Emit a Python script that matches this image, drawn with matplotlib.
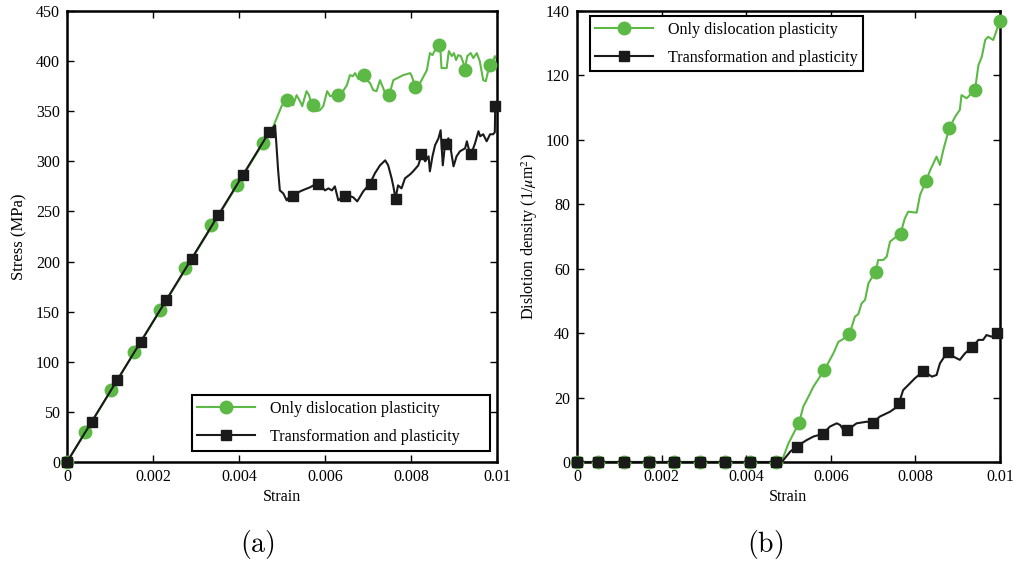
import matplotlib
matplotlib.use("Agg")
import matplotlib.pyplot as plt
from matplotlib.lines import Line2D
from matplotlib.ticker import FuncFormatter, MultipleLocator

plt.rcParams['font.family'] = ['Liberation Serif', 'DejaVu Serif']
plt.rcParams['mathtext.fontset'] = 'stix'

GREEN = '#5cb946'
BLACK = '#1a1a1a'
labels = ['Only dislocation plasticity', 'Transformation and plasticity']

# ---------------- Panel (a): stress-strain ----------------
a_green_x = [0, 0.0048, 0.00499, 0.00511, 0.00519, 0.00526, 0.00534, 0.00542, 0.00547, 0.00557,
             0.00563, 0.00569, 0.0058, 0.00588, 0.00596, 0.00605, 0.00612, 0.00631, 0.00639, 0.00651,
             0.00658, 0.00665, 0.0067, 0.00678, 0.00691, 0.00697, 0.00705, 0.00712, 0.0072, 0.00728,
             0.0074, 0.0075, 0.00759, 0.00782, 0.00798, 0.00802, 0.00809, 0.00821, 0.00837, 0.00844,
             0.0085, 0.00863, 0.00869, 0.00871, 0.00883, 0.00888, 0.00895, 0.009, 0.00905, 0.0091,
             0.00916, 0.00922, 0.00925, 0.00931, 0.00939, 0.00945, 0.00953, 0.0096, 0.00968, 0.00974,
             0.0098, 0.00984, 0.00991, 0.00995, 0.01]
a_green_y = [0, 335, 355, 361, 360, 356, 366, 360, 355, 370,
             366, 356, 350, 351, 355, 370, 365, 367, 368, 376,
             386, 385, 388, 382, 387, 381, 378, 371, 370, 381,
             368, 367, 381, 386, 388, 385, 375, 378, 391, 408,
             406, 417, 408, 393, 393, 410, 405, 408, 401, 406,
             405, 398, 391, 405, 408, 403, 408, 400, 381, 380,
             391, 396, 400, 405, 401]
a_green_mx = [0, 0.00042, 0.00102, 0.00156, 0.00216, 0.00274, 0.00335, 0.00395, 0.00456,
              0.00511, 0.00572, 0.0063, 0.0069, 0.0075, 0.0081, 0.00865, 0.00925, 0.00984]
a_green_my = [0, 30, 72, 110, 152, 194, 236, 276, 318,
              361, 356, 366, 386, 366, 374, 416, 391, 396]

a_black_x = [0, 0.0047, 0.00484, 0.00491, 0.00495, 0.00503, 0.00511, 0.00519, 0.00525, 0.00534,
             0.00542, 0.00553, 0.00565, 0.00573, 0.00585, 0.00592, 0.006, 0.00608, 0.00616, 0.00623,
             0.00631, 0.00639, 0.00647, 0.00654, 0.00666, 0.00675, 0.00689, 0.00705, 0.00716, 0.00728,
             0.0074, 0.00747, 0.00755, 0.00759, 0.00764, 0.0077, 0.00778, 0.00786, 0.00798, 0.00805,
             0.00817, 0.00825, 0.00833, 0.00841, 0.00844, 0.0085, 0.00856, 0.00864, 0.00869, 0.00874,
             0.00879, 0.00887, 0.00891, 0.00899, 0.00906, 0.00914, 0.00926, 0.0093, 0.00937, 0.00939,
             0.00949, 0.00957, 0.00961, 0.00968, 0.00976, 0.00984, 0.00991, 0.00995, 0.00996]
a_black_y = [0, 329, 336, 291, 271, 268, 261, 266, 265, 268,
             270, 272, 274, 276, 277, 275, 271, 273, 271, 275,
             261, 264, 265, 266, 264, 260, 270, 278, 288, 296,
             301, 296, 283, 275, 263, 276, 273, 283, 287, 290,
             296, 307, 300, 305, 290, 305, 316, 323, 331, 296,
             316, 323, 316, 295, 305, 310, 313, 320, 308, 306,
             318, 330, 325, 327, 320, 327, 327, 329, 355]
a_black_mx = [0, 0.00058, 0.00116, 0.00172, 0.0023, 0.00291, 0.00351, 0.00409, 0.0047,
              0.00526, 0.00584, 0.00647, 0.00707, 0.00765, 0.00823, 0.00881, 0.0094, 0.00996]
a_black_my = [0, 40, 82, 120, 162, 203, 246, 286, 329,
              265, 277, 265, 277, 262, 307, 317, 307, 355]

# ---------------- Panel (b): dislocation density ----------------
b_green_x = [0, 0.00484, 0.00488, 0.005, 0.00525, 0.00535, 0.00543, 0.00559, 0.00585, 0.00606,
             0.00618, 0.00626, 0.00644, 0.00657, 0.00665, 0.00673, 0.00681, 0.00689, 0.00706, 0.00712,
             0.00724, 0.00732, 0.0074, 0.00765, 0.00775, 0.00783, 0.00803, 0.00811, 0.00825, 0.00835,
             0.0085, 0.00858, 0.00866, 0.0088, 0.00894, 0.00905, 0.00909, 0.00921, 0.00941, 0.00949,
             0.00957, 0.00965, 0.00972, 0.00984, 0.00992, 0.01]
b_green_y = [0, 0, 1.6, 5.8, 12.2, 17.2, 19.2, 23.4, 28.6, 33.7,
             37.3, 37.9, 39.6, 45.1, 45.9, 49.3, 50.3, 55.5, 59.1, 62.7,
             62.7, 63.7, 68.4, 71, 75.6, 77.7, 77.4, 82.9, 87.2, 90.6,
             94.8, 92.2, 96.9, 103.6, 107.2, 109.3, 113.9, 112.9, 115.5, 123.2,
             125.8, 131, 132, 131, 134, 137]
b_green_mx = [0, 0.0005, 0.0011, 0.0017, 0.0023, 0.0029, 0.0035, 0.0041, 0.0047,
              0.00524, 0.00585, 0.00644, 0.00706, 0.00765, 0.00825, 0.0088, 0.00941, 0.01]
b_green_my = [0, 0, 0, 0, 0, 0, 0, 0, 0,
              12.2, 28.6, 39.6, 59.1, 70.8, 87.2, 103.6, 115.5, 137]

b_black_x = [0, 0.00484, 0.00488, 0.00504, 0.00519, 0.00543, 0.00559, 0.00581, 0.00598, 0.00614,
             0.00622, 0.0063, 0.00639, 0.00661, 0.00685, 0.00699, 0.00716, 0.0074, 0.00752, 0.00761,
             0.00771, 0.00787, 0.00799, 0.00819, 0.00839, 0.0085, 0.00858, 0.00876, 0.0089, 0.00905,
             0.00917, 0.00934, 0.00949, 0.0096, 0.00968, 0.0098, 0.00994, 0.01]
b_black_y = [0, 0, 0.6, 3.2, 4.8, 6.8, 7.9, 8.7, 11, 12,
             11.5, 9.9, 9.9, 12, 12.5, 12.2, 14.1, 15.6, 16.7, 18.2,
             22.3, 24.4, 26, 28.2, 26.5, 27, 30.6, 34.2, 32.7, 31.7,
             33.7, 35.6, 37.9, 37.9, 39.4, 38.9, 40.1, 40]
b_black_mx = [0, 0.0005, 0.0011, 0.0017, 0.0023, 0.0029, 0.0035, 0.0041, 0.0047,
              0.00519, 0.00581, 0.00639, 0.00699, 0.00761, 0.00819, 0.00876, 0.00934, 0.00994]
b_black_my = [0, 0, 0, 0, 0, 0, 0, 0, 0,
              4.8, 8.7, 9.9, 12.2, 18.2, 28.2, 34.2, 35.6, 40.1]

x_ticks = [0, 0.002, 0.004, 0.006, 0.008, 0.01]

fig = plt.figure(figsize=(10.14, 5.61), dpi=100, facecolor='white')
ax_a = fig.add_axes([0.0661, 0.1765, 0.4240, 0.8039])
ax_b = fig.add_axes([0.5690, 0.1765, 0.4172, 0.8039])

CIRC_MS = 9
SQ_MS = 6.5
LW = 1.5


def draw(ax, gx, gy, gmx, gmy, kx, ky, kmx, kmy):
    ax.plot(gx, gy, color=GREEN, lw=LW, zorder=2)
    ax.plot(gmx, gmy, 'o', color=GREEN, ms=CIRC_MS, mec=GREEN, zorder=3, clip_on=False)
    ax.plot(kx, ky, color=BLACK, lw=LW, zorder=4)
    ax.plot(kmx, kmy, 's', color=BLACK, ms=SQ_MS, mec=BLACK, zorder=5, clip_on=False)


draw(ax_a, a_green_x, a_green_y, a_green_mx, a_green_my,
     a_black_x, a_black_y, a_black_mx, a_black_my)
draw(ax_b, b_green_x, b_green_y, b_green_mx, b_green_my,
     b_black_x, b_black_y, b_black_mx, b_black_my)

fmt = FuncFormatter(lambda v, p: '0' if abs(v) < 1e-12 else ('%g' % v))

for ax in (ax_a, ax_b):
    ax.set_xlim(0, 0.01)
    ax.set_xticks(x_ticks)
    ax.xaxis.set_major_formatter(fmt)
    ax.tick_params(direction='in', top=True, right=True, length=5, width=1.0,
                   labelsize=11.5, colors='black', pad=5)
    for s in ax.spines.values():
        s.set_linewidth(1.8)
        s.set_color('black')
    ax.set_xlabel('Strain', fontsize=11.5, labelpad=3)

ax_a.set_ylim(0, 450)
ax_a.yaxis.set_major_locator(MultipleLocator(50))
ax_a.set_ylabel('Stress (MPa)', fontsize=12, labelpad=6)

ax_b.set_ylim(0, 140)
ax_b.yaxis.set_major_locator(MultipleLocator(20))
ax_b.set_ylabel(r'Dislotion density (1/$\mu$m$^2$)', fontsize=11.6, labelpad=4)

handles = [Line2D([], [], color=GREEN, lw=LW, marker='o', ms=CIRC_MS),
           Line2D([], [], color=BLACK, lw=LW, marker='s', ms=SQ_MS)]

leg_a = ax_a.legend(handles, labels, loc='lower left', bbox_to_anchor=(0.29, 0.025, 0.693, 0.126),
                    mode='expand', fontsize=11.6, handlelength=3.6, fancybox=False, framealpha=1,
                    edgecolor='black', borderaxespad=0, labelspacing=0.75, borderpad=0.35,
                    handletextpad=0.9)
leg_a.get_frame().set_linewidth(1.5)

leg_b = ax_b.legend(handles, labels, loc='upper left', bbox_to_anchor=(0.03, 0.989),
                    fontsize=11.6, handlelength=3.6, fancybox=False, framealpha=1,
                    edgecolor='black', borderaxespad=0, labelspacing=0.75, borderpad=0.35,
                    handletextpad=0.9)
leg_b.get_frame().set_linewidth(1.5)

fig.text(0.2535, 0.0, r'$\mathrm{(a)}$', math_fontfamily='cm', fontsize=20, ha='center', va='bottom')
fig.text(0.7545, 0.0, r'$\mathrm{(b)}$', math_fontfamily='cm', fontsize=20, ha='center', va='bottom')

fig.savefig('out.png', dpi=100, facecolor='white')
